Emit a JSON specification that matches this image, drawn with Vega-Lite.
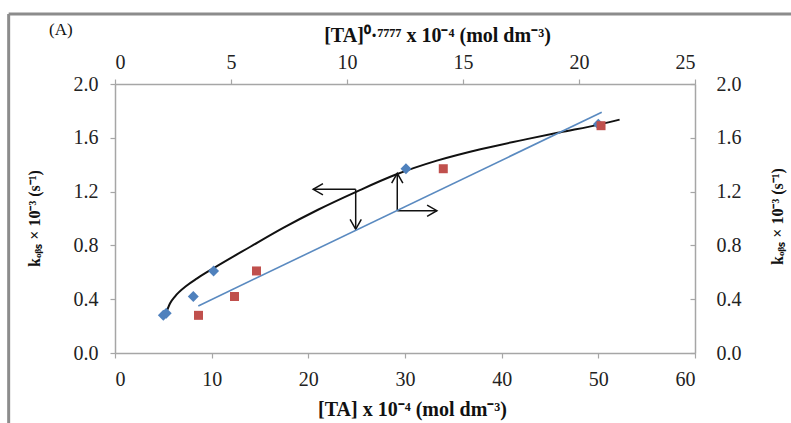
{
  "$schema": "https://vega.github.io/schema/vega-lite/v6.json",
  "width": 580,
  "height": 269,
  "autosize": {"type": "none"},
  "padding": {"left": 115, "top": 84, "right": 96, "bottom": 70},
  "background": "white",
  "config": {
    "view": {"stroke": null},
    "font": "Liberation Serif",
    "axis": {
      "grid": false,
      "domainColor": "#a6a6a6",
      "domainWidth": 1.5,
      "tickColor": "#a6a6a6",
      "tickWidth": 1.2,
      "tickSize": 5,
      "labelFont": "Liberation Serif",
      "labelFontSize": 20,
      "labelColor": "#222222",
      "titleFont": "Liberation Serif",
      "titleFontSize": 20,
      "titleFontWeight": "bold",
      "titleColor": "#111111"
    }
  },
  "title": {
    "text": "(A)",
    "anchor": "start",
    "frame": "group",
    "dx": -66,
    "dy": 30,
    "fontSize": 17,
    "fontWeight": "normal",
    "font": "Liberation Serif",
    "color": "#111111"
  },
  "resolve": {
    "scale": {"x": "independent", "y": "independent"},
    "axis": {"x": "independent", "y": "independent"}
  },
  "layer": [
    {
      "data": {"values": [{"part": "frame"}]},
      "layer": [
        {
          "mark": {"type": "rule", "stroke": "#8c8c8c", "strokeWidth": 3},
          "encoding": {
            "x": {"datum": -11.0, "type": "quantitative", "scale": {"domain": [0, 60], "nice": false, "zero": false}, "axis": null},
            "y": {"datum": 2.52, "type": "quantitative", "scale": {"domain": [0, 2], "nice": false, "zero": false}, "axis": null},
            "y2": {"datum": -1}
          }
        },
        {
          "mark": {"type": "rule", "stroke": "#8c8c8c", "strokeWidth": 3},
          "encoding": {
            "x": {"datum": -11.0, "type": "quantitative", "scale": {"domain": [0, 60], "nice": false, "zero": false}, "axis": null},
            "x2": {"datum": 80},
            "y": {"datum": 2.52, "type": "quantitative", "scale": {"domain": [0, 2], "nice": false, "zero": false}, "axis": null}
          }
        }
      ]
    },
    {
      "encoding": {
        "x": {
          "field": "x",
          "type": "quantitative",
          "scale": {"domain": [0, 60], "nice": false, "zero": false},
          "axis": {
            "orient": "bottom",
            "values": [0, 10, 20, 30, 40, 50, 60],
            "format": "d",
            "labelPadding": 11,
            "titleX": 297,
            "titleY": 62,
            "titleBaseline": "alphabetic",
            "title": "[TA] x 10⁻⁴ (mol dm⁻³)"
          }
        },
        "y": {
          "field": "y",
          "type": "quantitative",
          "scale": {"domain": [0, 2], "nice": false, "zero": false},
          "axis": {
            "orient": "left",
            "values": [0, 0.4, 0.8, 1.2, 1.6, 2.0],
            "format": ".1f",
            "labelPadding": 12,
            "titleFontSize": 16,
            "titleAngle": -90,
            "titleX": -81,
            "titleY": 134,
            "titleBaseline": "middle",
            "titleAlign": "center",
            "title": "kₒᵦₛ × 10⁻³ (s⁻¹)"
          }
        }
      },
      "layer": [
        {
          "data": {"values": [
            {"x": 5.3, "y": 0.30},
            {"x": 5.7, "y": 0.37},
            {"x": 6.2, "y": 0.42},
            {"x": 7.4, "y": 0.50},
            {"x": 8.5, "y": 0.555},
            {"x": 10.3, "y": 0.635},
            {"x": 14.0, "y": 0.79},
            {"x": 17.4, "y": 0.93},
            {"x": 21.0, "y": 1.065},
            {"x": 25.0, "y": 1.20},
            {"x": 29.0, "y": 1.325},
            {"x": 33.3, "y": 1.43},
            {"x": 37.8, "y": 1.515},
            {"x": 42.6, "y": 1.59},
            {"x": 46.0, "y": 1.64},
            {"x": 50.2, "y": 1.70},
            {"x": 52.2, "y": 1.735}
          ]},
          "mark": {"type": "line", "color": "#111111", "strokeWidth": 2, "interpolate": "monotone"}
        },
        {
          "data": {"values": [
            {"x": 5.0, "y": 0.28},
            {"x": 5.3, "y": 0.295},
            {"x": 8.1, "y": 0.42},
            {"x": 10.2, "y": 0.61},
            {"x": 30.1, "y": 1.37},
            {"x": 50.0, "y": 1.70}
          ]},
          "mark": {"type": "point", "shape": "diamond", "filled": true, "color": "#4f81bd", "opacity": 1, "size": 120}
        },
        {
          "data": {"values": [
            {"x": 24.9, "y": 1.217, "x2": 20.5, "y2": 1.217},
            {"x": 24.9, "y": 1.217, "x2": 24.9, "y2": 0.92},
            {"x": 29.2, "y": 1.058, "x2": 29.2, "y2": 1.336},
            {"x": 29.2, "y": 1.058, "x2": 33.3, "y2": 1.058}
          ]},
          "mark": {"type": "rule", "color": "#111111", "strokeWidth": 1.5},
          "encoding": {
            "x2": {"field": "x2"},
            "y2": {"field": "y2"}
          }
        },
        {
          "data": {"name": "heads", "values": [
            {"x": 20.5, "y": 1.217, "dir": "left"},
            {"x": 24.9, "y": 0.92, "dir": "down"},
            {"x": 29.2, "y": 1.336, "dir": "up"},
            {"x": 33.3, "y": 1.058, "dir": "right"}
          ]},
          "layer": [
            {
              "transform": [{"filter": "datum.dir === 'right'"}],
              "mark": {"type": "point", "shape": "M-1.4,-0.8L0,0L-1.4,0.8", "filled": false, "stroke": "#111111", "strokeWidth": 1.5, "opacity": 1, "size": 196, "angle": 0}
            },
            {
              "transform": [{"filter": "datum.dir === 'down'"}],
              "mark": {"type": "point", "shape": "M-1.4,-0.8L0,0L-1.4,0.8", "filled": false, "stroke": "#111111", "strokeWidth": 1.5, "opacity": 1, "size": 196, "angle": 90}
            },
            {
              "transform": [{"filter": "datum.dir === 'left'"}],
              "mark": {"type": "point", "shape": "M-1.4,-0.8L0,0L-1.4,0.8", "filled": false, "stroke": "#111111", "strokeWidth": 1.5, "opacity": 1, "size": 196, "angle": 180}
            },
            {
              "transform": [{"filter": "datum.dir === 'up'"}],
              "mark": {"type": "point", "shape": "M-1.4,-0.8L0,0L-1.4,0.8", "filled": false, "stroke": "#111111", "strokeWidth": 1.5, "opacity": 1, "size": 196, "angle": 270}
            }
          ]
        }
      ]
    },
    {
      "encoding": {
        "x": {
          "field": "x",
          "type": "quantitative",
          "scale": {"domain": [0, 25], "nice": false, "zero": false},
          "axis": {
            "orient": "top",
            "values": [0, 5, 10, 15, 20, 25],
            "format": "d",
            "labelPadding": 7,
            "titleX": 322,
            "titleY": -43,
            "titleBaseline": "alphabetic",
            "title": "[TA]⁰·⁷⁷⁷⁷ x 10⁻⁴ (mol dm⁻³)"
          }
        },
        "y": {
          "field": "y",
          "type": "quantitative",
          "scale": {"domain": [0, 2], "nice": false, "zero": false},
          "axis": {
            "orient": "right",
            "values": [0, 0.4, 0.8, 1.2, 1.6, 2.0],
            "format": ".1f",
            "tickSize": -5,
            "labelPadding": 26,
            "titleFontSize": 16,
            "titleAngle": -90,
            "titleX": 82,
            "titleY": 132,
            "titleBaseline": "middle",
            "titleAlign": "center",
            "title": "kₒᵦₛ × 10⁻³ (s⁻¹)"
          }
        }
      },
      "layer": [
        {
          "data": {"values": [
            {"x": 3.59, "y": 0.35},
            {"x": 20.98, "y": 1.79}
          ]},
          "mark": {"type": "line", "color": "#5a8ac0", "strokeWidth": 1.6}
        },
        {
          "data": {"values": [
            {"x": 3.6, "y": 0.28},
            {"x": 5.15, "y": 0.42},
            {"x": 6.1, "y": 0.61},
            {"x": 14.15, "y": 1.37},
            {"x": 20.95, "y": 1.69}
          ]},
          "mark": {"type": "point", "shape": "square", "filled": true, "color": "#c0504d", "opacity": 1, "size": 81}
        }
      ]
    }
  ]
}
